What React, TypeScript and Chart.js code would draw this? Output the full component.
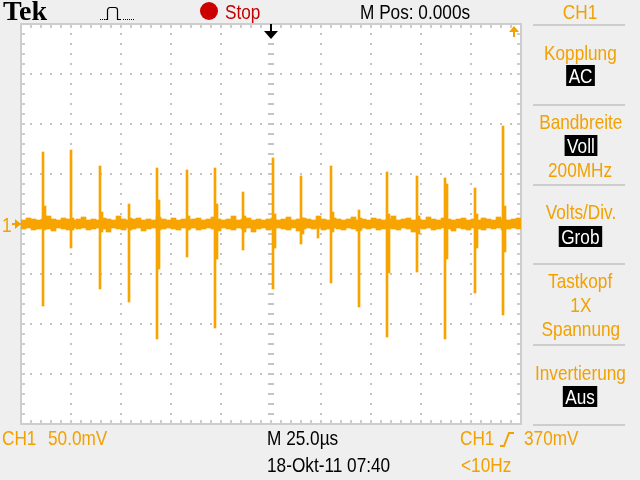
import React, { useEffect, useRef } from "react";
import { Chart, registerables } from "chart.js";

Chart.register(...registerables);

// ---- data (time in µs, voltage in mV) ----
const timeMin = 0;
const timeMax = 250; // 10 div x 25.0 µs
const voltMin = -200;
const voltMax = 200; // 8 div x 50.0 mV
const timePerDiv = 25;
const voltPerDiv = 50;

// baseline noise envelope, one column every 2.5 µs
const noiseStepUs = 2.5;
const noiseHi = [
  4, 6, 5, 4, 5, 8, 5, 4, 6, 5,
  4, 5, 7, 4, 5, 4, 6, 5, 4, 8,
  5, 4, 5, 6, 4, 5, 4, 7, 5, 4,
  6, 4, 5, 4, 5, 6, 4, 5, 7, 5,
  4, 5, 8, 4, 5, 6, 4, 5, 4, 5,
  6, 4, 5, 7, 4, 5, 6, 5, 4, 8,
  5, 4, 6, 5, 4, 5, 7, 4, 5, 4,
  6, 5, 4, 5, 8, 4, 5, 6, 4, 5,
  4, 7, 5, 4, 6, 5, 4, 5, 6, 4,
  5, 4, 6, 5, 4, 7, 5, 4, 5, 6,
];
const noiseLo = [
  -5, -4, -6, -5, -4, -5, -7, -4, -5, -6,
  -4, -5, -4, -6, -5, -4, -5, -8, -4, -5,
  -6, -4, -5, -4, -7, -5, -4, -6, -5, -4,
  -5, -6, -4, -5, -4, -6, -5, -4, -5, -7,
  -4, -5, -6, -4, -5, -4, -8, -5, -4, -6,
  -5, -4, -5, -6, -4, -7, -5, -4, -5, -4,
  -6, -5, -4, -5, -6, -4, -5, -7, -4, -5,
  -4, -6, -5, -4, -5, -6, -4, -5, -8, -4,
  -5, -4, -6, -5, -4, -5, -7, -4, -5, -6,
  -4, -5, -6, -4, -5, -4, -6, -5, -4, -5,
];

// spikes
const spikeTimes = [11, 25, 39.5, 54, 68, 83, 97, 111, 126, 140, 148.5, 155, 169, 183, 198, 212, 227, 241];
const spikeMax = [72, 74, 58, 20, 56, 54, 56, 32, 66, 48, 4, 58, 14, 52, 48, 46, 36, 98];
const spikeMin = [-82, -24, -65, -78, -115, -33, -104, -26, -65, -20, -14, -59, -83, -113, -48, -115, -69, -91];
// ringing column right after each spike
const ringOffsetUs = 1;
const ringMax = [18, 6, 12, 6, 24, 8, 20, 8, 10, 6, 0, 12, 6, 10, 8, 40, 10, 18];
const ringMin = [-6, -6, -8, -6, -45, -6, -35, -8, -24, -10, -4, -8, -6, -49, -10, -35, -24, -28];

// ---- styles ----
const BG = "#efefef";
const TRACE = "#f7a400";
const ORANGE = "#f2a100";
const GRID = "#c4c4c4";
const BORDER = "#cdcdcd";
const FONT = '"Liberation Sans", Arial, sans-serif';

const scopeGrid = {
  id: "scopeGrid",
  beforeDatasetsDraw(chart: any) {
    const { ctx, chartArea: a, scales } = chart;
    const xs = scales.x;
    const ys = scales.y;
    const xMinor = timePerDiv / 5;
    const yMinor = voltPerDiv / 5;
    const xCenter = (timeMin + timeMax) / 2;
    const yCenter = (voltMin + voltMax) / 2;
    ctx.save();
    ctx.fillStyle = "#ffffff";
    ctx.fillRect(a.left, a.top, a.right - a.left, a.bottom - a.top);
    ctx.fillStyle = GRID;
    // vertical division lines
    for (let t = timeMin + timePerDiv; t < timeMax - 0.001; t += timePerDiv) {
      const px = Math.round(xs.getPixelForValue(t));
      for (let v = voltMin; v <= voltMax + 0.001; v += yMinor) {
        const py = Math.round(ys.getPixelForValue(v));
        if (Math.abs(t - xCenter) < 0.001) ctx.fillRect(px - 3, py - 1, 6, 2);
        else ctx.fillRect(px - 1, py - 1, 2, 2);
      }
    }
    // horizontal division lines
    for (let v = voltMin + voltPerDiv; v < voltMax - 0.001; v += voltPerDiv) {
      const py = Math.round(ys.getPixelForValue(v));
      for (let t = timeMin; t <= timeMax + 0.001; t += xMinor) {
        const px = Math.round(xs.getPixelForValue(t));
        if (Math.abs(v - yCenter) < 0.001) ctx.fillRect(px - 1, py - 3, 2, 6);
        else ctx.fillRect(px - 1, py - 1, 2, 2);
      }
    }
    // border with ruler ticks
    ctx.fillStyle = BORDER;
    const L = Math.round(a.left), R = Math.round(a.right), T = Math.round(a.top), B = Math.round(a.bottom);
    ctx.fillRect(L - 1, T - 1, R - L + 2, 2);
    ctx.fillRect(L - 1, B - 1, R - L + 2, 2);
    ctx.fillRect(L - 1, T - 1, 2, B - T + 2);
    ctx.fillRect(R - 1, T - 1, 2, B - T + 2);
    for (let t = timeMin; t <= timeMax + 0.001; t += xMinor) {
      const px = Math.round(xs.getPixelForValue(t));
      ctx.fillRect(px - 1, T, 2, 4);
      ctx.fillRect(px - 1, B - 4, 2, 4);
    }
    for (let v = voltMin; v <= voltMax + 0.001; v += yMinor) {
      const py = Math.round(ys.getPixelForValue(v));
      ctx.fillRect(L, py - 1, 4, 2);
      ctx.fillRect(R - 4, py - 1, 4, 2);
    }
    ctx.restore();
  },
};

function Txt(props: { x: number; base: number; color?: string; children: any }) {
  return (
    <div
      style={{
        position: "absolute",
        left: props.x,
        top: props.base - 18,
        fontFamily: FONT,
        fontSize: 21,
        lineHeight: "21px",
        color: props.color || "#000",
        whiteSpace: "nowrap",
      }}
    >
      <span style={{ display: "inline-block", transform: "scaleX(0.82)", transformOrigin: "left center" }}>
        {props.children}
      </span>
    </div>
  );
}

function PanelTxt(props: { base: number; box?: boolean; children: any }) {
  return (
    <div
      style={{
        position: "absolute",
        left: 521,
        width: 119,
        top: props.base - 18,
        textAlign: "center",
        fontFamily: FONT,
        fontSize: 21,
        lineHeight: "21px",
        whiteSpace: "nowrap",
      }}
    >
      <span
        style={{
          display: "inline-block",
          transform: "scaleX(0.82)",
          transformOrigin: "center center",
          color: props.box ? "#ffffff" : ORANGE,
          background: props.box ? "#000000" : "transparent",
          padding: props.box ? "0 3px" : 0,
        }}
      >
        {props.children}
      </span>
    </div>
  );
}

const separatorYs = [25, 105, 185, 264, 345, 425];

export default function App() {
  const ref = useRef<HTMLCanvasElement>(null);
  useEffect(() => {
    const canvas = ref.current;
    if (!canvas) return;
    const noiseData = noiseHi.map((hi, i) => ({ x: timeMin + noiseStepUs * (i + 0.5), y: [noiseLo[i], hi] }));
    const spikeData = spikeTimes.map((t, i) => ({ x: t, y: [spikeMin[i], spikeMax[i]] }));
    const ringData = spikeTimes.map((t, i) => ({ x: t + ringOffsetUs, y: [ringMin[i], ringMax[i]] }));
    const chart = new Chart(canvas, {
      type: "bar",
      data: {
        datasets: [
          { data: noiseData as any, backgroundColor: TRACE, barThickness: 5, grouped: false, borderWidth: 0 },
          { data: ringData as any, backgroundColor: TRACE, barThickness: 2, grouped: false, borderWidth: 0 },
          { data: spikeData as any, backgroundColor: TRACE, barThickness: 2, grouped: false, borderWidth: 0 },
        ],
      },
      options: {
        animation: false,
        responsive: false,
        maintainAspectRatio: false,
        devicePixelRatio: 1,
        events: [],
        layout: { padding: { left: 21, top: 24, right: 119, bottom: 56 } },
        plugins: { legend: { display: false }, tooltip: { enabled: false } },
        scales: {
          x: { type: "linear", min: timeMin, max: timeMax, offset: false, display: false },
          y: { type: "linear", min: voltMin, max: voltMax, display: false },
        },
      } as any,
      plugins: [scopeGrid],
    });
    return () => chart.destroy();
  }, []);

  return (
    <div
      style={{
        position: "fixed",
        left: 0,
        top: 0,
        width: 640,
        height: 480,
        background: BG,
        overflow: "hidden",
      }}
    >
      <canvas ref={ref} width={640} height={480} style={{ position: "absolute", left: 0, top: 0, width: 640, height: 480 }} />
      <svg width={640} height={480} style={{ position: "absolute", left: 0, top: 0, pointerEvents: "none" }}>
        {/* acquisition icon */}
        <g fill="#000">
          <rect x={100} y={19} width={1} height={1} />
          <rect x={102} y={19} width={1} height={1} />
          <rect x={104} y={19} width={1} height={1} />
          <rect x={123} y={19} width={1} height={1} />
          <rect x={125} y={19} width={1} height={1} />
          <rect x={127} y={19} width={1} height={1} />
          <rect x={129} y={19} width={1} height={1} />
          <rect x={131} y={19} width={1} height={1} />
          <rect x={133} y={19} width={1} height={1} />
        </g>
        <path d="M105.5 19.5 H107.5 V10 Q108 7.5 110 7.5 H115 Q117.5 7.5 117.5 10 V19.5 H121" fill="none" stroke="#000" strokeWidth={1.2} />
        {/* stop indicator */}
        <circle cx={209} cy={11} r={9} fill="#cc0000" />
        {/* trigger position arrow */}
        <rect x={270} y={24} width={2} height={8} fill="#000" />
        <polygon points="264,31 278,31 271,39" fill="#000" />
        {/* trigger level marker */}
        <polygon points="509,32 519,32 514,26" fill={ORANGE} />
        <rect x={513} y={31} width={2} height={6} fill={ORANGE} />
        {/* channel 1 ground marker */}
        <rect x={12} y={223} width={9} height={2} fill={ORANGE} />
        <polygon points="15,219 21,224 15,229" fill={ORANGE} />
        {/* rising edge symbol */}
        <polyline points="500,446 504,446 509,433 514,433" fill="none" stroke={ORANGE} strokeWidth={2} />
        {/* right panel separators */}
        {separatorYs.map((y) => (
          <rect key={y} x={533} y={y - 1} width={92} height={2} fill={BORDER} />
        ))}
      </svg>

      {/* header */}
      <div
        style={{
          position: "absolute",
          left: 3,
          top: -3,
          fontFamily: '"Liberation Serif", "Times New Roman", serif',
          fontWeight: "bold",
          fontSize: 28,
          lineHeight: "28px",
          color: "#000",
        }}
      >
        Tek
      </div>
      <Txt x={225} base={19} color="#c40000">Stop</Txt>
      <Txt x={360} base={19}>M Pos: 0.000s</Txt>

      {/* channel marker */}
      <Txt x={2} base={232} color={ORANGE}>1</Txt>

      {/* right menu */}
      <PanelTxt base={19}>CH1</PanelTxt>
      <PanelTxt base={60}>Kopplung</PanelTxt>
      <PanelTxt base={83} box>AC</PanelTxt>
      <PanelTxt base={129}>Bandbreite</PanelTxt>
      <PanelTxt base={153} box>Voll</PanelTxt>
      <PanelTxt base={177}>200MHz</PanelTxt>
      <PanelTxt base={219}>Volts/Div.</PanelTxt>
      <PanelTxt base={244} box>Grob</PanelTxt>
      <PanelTxt base={288}>Tastkopf</PanelTxt>
      <PanelTxt base={312}>1X</PanelTxt>
      <PanelTxt base={336}>Spannung</PanelTxt>
      <PanelTxt base={380}>Invertierung</PanelTxt>
      <PanelTxt base={404} box>Aus</PanelTxt>

      {/* bottom status */}
      <Txt x={2} base={445} color={ORANGE}>CH1</Txt>
      <Txt x={48} base={445} color={ORANGE}>50.0mV</Txt>
      <Txt x={267} base={445}>M 25.0µs</Txt>
      <Txt x={460} base={445} color={ORANGE}>CH1</Txt>
      <Txt x={524} base={445} color={ORANGE}>370mV</Txt>
      <Txt x={267} base={472}>18-Okt-11 07:40</Txt>
      <Txt x={461} base={472} color={ORANGE}>&lt;10Hz</Txt>
    </div>
  );
}
